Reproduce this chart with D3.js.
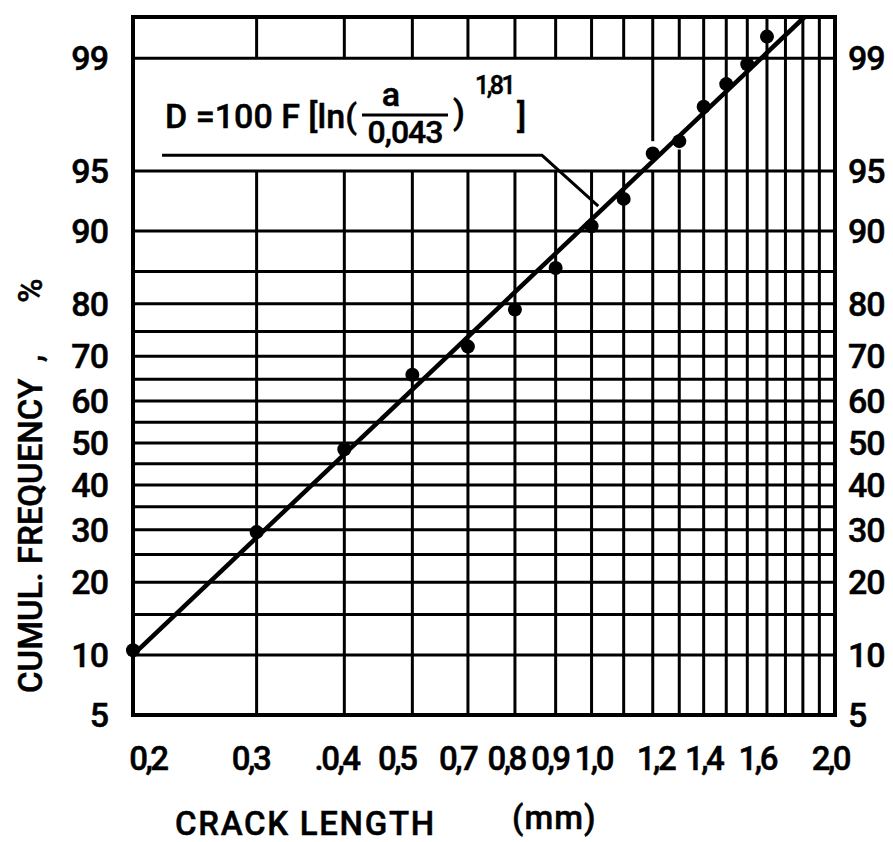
<!DOCTYPE html>
<html>
<head>
<meta charset="utf-8">
<script src="https://cdn.jsdelivr.net/npm/d3@7"></script>
<style>
  body { margin: 0; background: #fff; }
  text { font-family: Roboto, "DejaVu Sans", sans-serif; font-weight: 500; fill: #000; stroke: #000; stroke-width: 0.5px; }
</style>
</head>
<body>
<div id="chart"></div>
<script>
// measured points: crack length (mm) and cumulative frequency (%)
const crackLength = [0.2, 0.3, 0.4, 0.5, 0.6, 0.7, 0.8, 0.9, 1.0, 1.1, 1.2, 1.3, 1.4, 1.5, 1.6]
const cumFreq = [10.5, 29.5, 48.5, 66, 72, 79, 85.5, 90.5, 93, 96, 96.6, 97.9, 98.5, 98.9, 99.3]

// fitted line D = 100 F[ln(a/0.043)^1.81]
const fitLength = [0.2, 1.81]
const fitFreq = [10, 99.5]

// probability paper grid
const gridLength = d3.range(2, 21).map(d => d / 10)
const gridFreq = [10, 15, 20, 25, 30, 35, 40, 45, 50, 55, 60, 65, 70, 75, 80, 85, 90, 95, 99]
const freqMin = 5
const freqMax = 99.5

// tick labels (as printed on the paper, where they are printed)
const yTicks = [99, 95, 90, 80, 70, 60, 50, 40, 30, 20, 10, 5]
const xTickLabels = ["0,2", "0,3", ".0,4", "0,5", "0,7", "0,8", "0,9", "1,0", "1,2", "1,4", "1,6", "2,0"]
const xTickAt = [0.21, 0.294, 0.39, 0.475, 0.58, 0.68, 0.785, 0.905, 1.11, 1.3, 1.55, 1.97]

// leader from the formula to the line
const leaderLength = [0.22, 0.765, 0.92]
const leaderFreq = [95.9, 95.9, 92.4]

// inverse normal cdf (Acklam)
function probit(p) {
  const a = [-39.69683028665376, 220.9460984245205, -275.9285104469687, 138.3577518672690, -30.66479806614716, 2.506628277459239]
  const b = [-54.47609879822406, 161.5858368580409, -155.6989798598866, 66.80131188771972, -13.28068155288572]
  const c = [-0.007784894002430293, -0.3223964580411365, -2.400758277161838, -2.549671664129181, 4.374664141464968, 2.938163982698783]
  const d = [0.007784695709041462, 0.3224671290700398, 2.445134137142996, 3.754408661907416]
  const pl = 0.02425
  let q, r
  if (p < pl) {
    q = Math.sqrt(-2 * Math.log(p))
    return (((((c[0]*q+c[1])*q+c[2])*q+c[3])*q+c[4])*q+c[5]) / ((((d[0]*q+d[1])*q+d[2])*q+d[3])*q+1)
  }
  if (p <= 1 - pl) {
    q = p - 0.5
    r = q * q
    return (((((a[0]*r+a[1])*r+a[2])*r+a[3])*r+a[4])*r+a[5])*q / (((((b[0]*r+b[1])*r+b[2])*r+b[3])*r+b[4])*r+1)
  }
  q = Math.sqrt(-2 * Math.log(1 - p))
  return -(((((c[0]*q+c[1])*q+c[2])*q+c[3])*q+c[4])*q+c[5]) / ((((d[0]*q+d[1])*q+d[2])*q+d[3])*q+1)
}

const width = 893
const height = 842

const svg = d3.select("#chart").append("svg")
  .attr("width", width)
  .attr("height", height)

const xScale = d3.scaleLog()
  .domain([0.2, 2.0])
  .range([133, 835])

const zScale = d3.scaleLinear()
  .domain([probit(freqMin / 100), probit(freqMax / 100)])
  .range([715, 17])

const yScale = p => zScale(probit(p / 100))

// vertical lines leave room for the formula between 95 and 99 %
function verticalSegments(a) {
  const v = Math.round(a * 10)
  if (v <= 10) return [[freqMax, 99], [95, freqMin]]
  if (v === 11) return [[freqMax, 96.6], [95, freqMin]]
  if (v === 12) return [[freqMax, 99], [96.2, freqMin]]
  return [[freqMax, freqMin]]
}

const grid = svg.append("g")
  .attr("stroke", "#000")
  .attr("stroke-width", 3)

grid.selectAll(".hline")
  .data(gridFreq)
  .enter()
  .append("line")
    .attr("class", "hline")
    .attr("x1", xScale(0.2))
    .attr("x2", xScale(2.0))
    .attr("y1", d => yScale(d))
    .attr("y2", d => yScale(d))

const vsegs = gridLength.slice(1, -1).flatMap(a => verticalSegments(a).map(s => ({a, s})))

grid.selectAll(".vline")
  .data(vsegs)
  .enter()
  .append("line")
    .attr("class", "vline")
    .attr("x1", d => xScale(d.a))
    .attr("x2", d => xScale(d.a))
    .attr("y1", d => yScale(d.s[0]))
    .attr("y2", d => yScale(d.s[1]))

svg.append("rect")
  .attr("x", xScale(0.2))
  .attr("y", yScale(freqMax))
  .attr("width", xScale(2.0) - xScale(0.2))
  .attr("height", yScale(freqMin) - yScale(freqMax))
  .attr("fill", "none")
  .attr("stroke", "#000")
  .attr("stroke-width", 4)

// fitted line
const line = d3.line()
  .x(d => xScale(d[0]))
  .y(d => yScale(d[1]))

svg.append("path")
  .datum(d3.zip(fitLength, fitFreq))
  .attr("d", line)
  .attr("fill", "none")
  .attr("stroke", "#000")
  .attr("stroke-width", 4.5)

svg.append("path")
  .datum(d3.zip(leaderLength, leaderFreq))
  .attr("d", line)
  .attr("fill", "none")
  .attr("stroke", "#000")
  .attr("stroke-width", 3)

// data points
svg.append("g")
  .selectAll("circle")
  .data(d3.zip(crackLength, cumFreq))
  .enter()
  .append("circle")
    .attr("cx", d => xScale(d[0]))
    .attr("cy", d => yScale(d[1]))
    .attr("r", 7)
    .attr("fill", "#000")

// y tick labels, both sides
const ylab = svg.append("g").attr("font-size", 34)
ylab.selectAll(".yl")
  .data(yTicks)
  .enter()
  .append("text")
    .attr("class", "yl")
    .attr("x", 108)
    .attr("y", d => yScale(d))
    .attr("dy", "0.36em")
    .attr("text-anchor", "end")
    .attr("letter-spacing", -1)
    .text(d => d)
ylab.selectAll(".yr")
  .data(yTicks)
  .enter()
  .append("text")
    .attr("class", "yr")
    .attr("x", 848)
    .attr("y", d => yScale(d))
    .attr("dy", "0.36em")
    .attr("text-anchor", "start")
    .attr("letter-spacing", -1)
    .text(d => d)

// x tick labels
svg.append("g")
  .attr("font-size", 33)
  .selectAll("text")
  .data(d3.zip(xTickAt, xTickLabels))
  .enter()
  .append("text")
    .attr("x", d => xScale(d[0]))
    .attr("y", 770)
    .attr("text-anchor", "middle")
    .attr("letter-spacing", -2.5)
    .text(d => d[1])

// axis titles
svg.append("text")
  .attr("x", 175)
  .attr("y", 835)
  .attr("font-size", 33)
  .attr("letter-spacing", 1.7)
  .text("CRACK LENGTH")

svg.append("text")
  .attr("x", 512)
  .attr("y", 829)
  .attr("font-size", 33)
  .attr("letter-spacing", 1)
  .text("(mm)")

const ytitle = svg.append("text")
  .attr("transform", "translate(42,693) rotate(-90)")
  .attr("font-size", 33)
ytitle.append("tspan").text("CUMUL. FREQUENCY")
ytitle.append("tspan").attr("dx", 20).text(",")
ytitle.append("tspan").attr("dx", 52).text("%")

// formula
const f = svg.append("g").attr("font-size", 34)
f.append("text").attr("x", 165).attr("y", 128).text("D =100 F [ln(")
f.append("text").attr("x", 391).attr("y", 106).attr("text-anchor", "middle").text("a")
f.append("line")
  .attr("x1", 362).attr("x2", 448)
  .attr("y1", 115).attr("y2", 115)
  .attr("stroke", "#000").attr("stroke-width", 3)
f.append("text").attr("x", 405).attr("y", 143).attr("text-anchor", "middle").attr("font-size", 32).attr("letter-spacing", -1).text("0,043")
f.append("text").attr("x", 453).attr("y", 124).text(")")
f.append("text").attr("x", 475).attr("y", 94).attr("font-size", 25).attr("letter-spacing", -2.5).text("1,81")
f.append("text").attr("x", 517).attr("y", 128).text("]")
</script>
</body>
</html>
